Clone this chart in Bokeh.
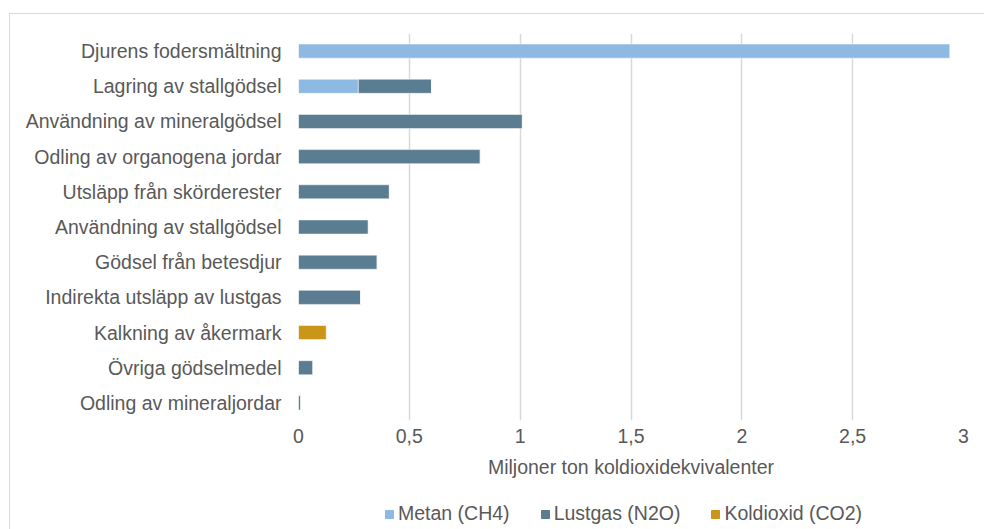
from bokeh.plotting import figure
from bokeh.layouts import column
from bokeh.models import ColumnDataSource, Legend, LegendItem, FixedTicker, Range1d, FactorRange
from bokeh.embed import file_html
from bokeh.resources import INLINE

categories = ["Djurens fodersmältning", "Lagring av stallgödsel", "Användning av mineralgödsel",
              "Odling av organogena jordar", "Utsläpp från skörderester", "Användning av stallgödsel",
              "Gödsel från betesdjur", "Indirekta utsläpp av lustgas", "Kalkning av åkermark",
              "Övriga gödselmedel", "Odling av mineraljordar"]
metan = [2.94, 0.27, 0, 0, 0, 0, 0, 0, 0, 0, 0]
lustgas = [0, 0.33, 1.01, 0.82, 0.41, 0.315, 0.355, 0.28, 0, 0.065, 0.01]
koldioxid = [0, 0, 0, 0, 0, 0, 0, 0, 0.125, 0, 0]
series = ["Metan (CH4)", "Lustgas (N2O)", "Koldioxid (CO2)"]
colors = ["#8EB9E2", "#5A7D91", "#C9961A"]
xticks = [0, 0.5, 1, 1.5, 2, 2.5, 3]
xtick_labels = {0: "0", 0.5: "0,5", 1: "1", 1.5: "1,5", 2: "2", 2.5: "2,5", 3: "3"}

FONT = "Liberation Sans"
FS = "19.5px"
TXT = "#595959"

src = ColumnDataSource(dict(cat=categories, m=metan, l=lustgas, k=koldioxid))

# ---- main chart (layout is offset by 10px left / 14px top by the border) ----
p = figure(width=974, height=470, output_backend="svg", toolbar_location=None,
           y_range=FactorRange(*categories[::-1]), x_range=Range1d(0, 3),
           min_border_left=288, min_border_right=21, min_border_top=19, min_border_bottom=64)
p.y_range.range_padding = 0
p.outline_line_color = None
p.background_fill_color = "white"
p.border_fill_color = "white"

p.hbar_stack(["m", "l", "k"], y="cat", height=0.4, source=src, color=colors,
             line_color="white", line_width=0.5)

p.ygrid.grid_line_color = None
p.xgrid.grid_line_color = "#d9d9d9"
p.xgrid.grid_line_width = 1.5
p.xaxis.ticker = FixedTicker(ticks=xticks)
p.xaxis.major_label_overrides = xtick_labels
p.xaxis.axis_line_color = None
p.xaxis.major_tick_line_color = None
p.xaxis.minor_tick_line_color = None
p.xaxis.major_tick_out = 0
p.xaxis.major_tick_in = 0
p.xaxis.major_label_text_font = FONT
p.xaxis.major_label_text_font_size = FS
p.xaxis.major_label_text_color = TXT
p.xaxis.major_label_standoff = 8
p.xaxis.axis_label = "Miljoner ton koldioxidekvivalenter"
p.xaxis.axis_label_text_font = FONT
p.xaxis.axis_label_text_font_size = FS
p.xaxis.axis_label_text_font_style = "normal"
p.xaxis.axis_label_text_color = TXT
p.xaxis.axis_label_standoff = 10

p.yaxis.axis_line_color = None
p.yaxis.major_tick_line_color = None
p.yaxis.minor_tick_line_color = None
p.yaxis.major_tick_out = 0
p.yaxis.major_tick_in = 0
p.yaxis.major_label_text_font = FONT
p.yaxis.major_label_text_font_size = FS
p.yaxis.major_label_text_color = TXT
p.yaxis.major_label_standoff = 17

# ---- legend strip (its renderers are hidden; only the legend shows) ----
lg = figure(width=974, height=45, output_backend="svg", toolbar_location=None,
            y_range=FactorRange(*categories[::-1]), x_range=Range1d(0, 3),
            min_border=0)
lg.outline_line_color = None
lg.axis.visible = False
lg.grid.visible = False
lg.background_fill_color = "white"
lg.border_fill_color = "white"
rr = lg.hbar_stack(["m", "l", "k"], y="cat", height=0.4, source=src, color=colors)
for r in rr:
    r.visible = False
legend = Legend(items=[LegendItem(label=s, renderers=[r]) for s, r in zip(series, rr)],
                orientation="horizontal", location=(86, 4),
                label_text_font=FONT, label_text_font_size=FS,
                label_text_color=TXT, glyph_width=10, glyph_height=10,
                label_standoff=4, spacing=30, border_line_color=None,
                background_fill_alpha=0, padding=0, margin=0,
                inactive_fill_alpha=0)
lg.add_layout(legend, "center")

layout = column(p, lg, spacing=0)
layout.styles = {"margin-left": "9px", "margin-top": "13px",
                 "border-left": "1px solid #d9d9d9", "border-top": "1px solid #d9d9d9"}

open("out.html", "w").write(file_html(layout, INLINE))
